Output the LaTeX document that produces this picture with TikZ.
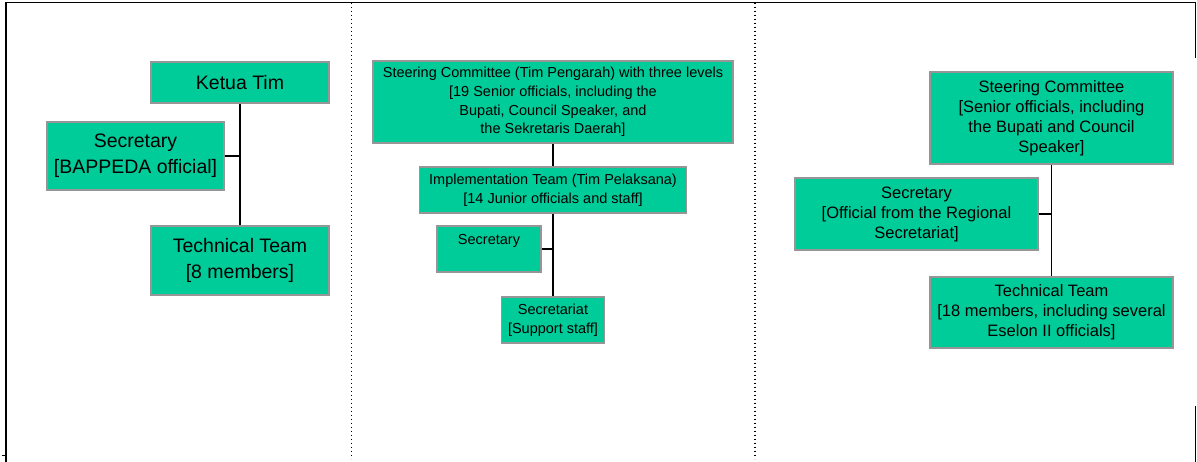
\documentclass[tikz,border=0pt]{standalone}
\usepackage{fontspec}
\setmainfont{Liberation Sans}
\definecolor{boxgreen}{RGB}{0,204,153}
\definecolor{boxedge}{RGB}{150,150,150}
\tikzset{
	orgbox/.style={draw=boxedge, fill=boxgreen, line width=1.3pt, align=center, inner sep=0pt},
	txtA/.style={font=\fontsize{19.5}{26}\selectfont},
	txtB/.style={font=\fontsize{14.5}{18.8}\selectfont},
	txtC/.style={font=\fontsize{16.5}{20}\selectfont},
	link/.style={line width=1.3pt}
}

\begin{document}
\begin{tikzpicture}[x=1pt, y=-1pt]
	\useasboundingbox (0,0) rectangle (1197,462);
	% frame
	\draw[line width=1.3pt] (5,2.5) -- (1196,2.5);
	\draw[line width=2pt] (6,2.5) -- (6,462);
	\draw[line width=1.3pt] (2,455.5) -- (6,455.5);
	\draw[line width=1.5pt] (1195.7,1.8) -- (1195.7,58);
	\draw[line width=1.5pt] (1195.7,406) -- (1195.7,462);
	% panels
	\draw[line width=1.2pt, dash pattern=on 1.3pt off 2.7pt] (351.5,3) -- (351.5,459);
	\draw[line width=1.2pt, dash pattern=on 1.3pt off 2.7pt] (755,3) -- (755,459);

	% first team
	\node[orgbox, txtA, minimum width=178pt, minimum height=41pt] (kt) at (240,82.5) {Ketua Tim};
	\node[orgbox, txtA, minimum width=177pt, minimum height=68pt] (secA) at (135.5,156) {Secretary\\{}[BAPPEDA official]};
	\node[orgbox, txtA, minimum width=178pt, minimum height=69pt] (techA) at (240,260.5) {Technical Team\\{}[8 members]};
	\draw[link] (kt.south) -- (techA.north);
	\draw[link] (secA.east) -- (secA.east -| kt.south);

	% second team
	\node[orgbox, txtB, minimum width=360pt, minimum height=82pt] (sc) at (553,102) {Steering Committee (Tim Pengarah) with three levels\\{}[19 Senior officials, including the\\Bupati, Council Speaker, and\\the Sekretaris Daerah]};
	\node[orgbox, txtB, minimum width=267pt, minimum height=46pt] (impl) at (553,190) {Implementation Team (Tim Pelaksana)\\{}[14 Junior officials and staff]};
	\node[orgbox, txtB, minimum width=104pt, minimum height=46pt] (secB) at (489,249) {Secretary\\\mbox{}};
	\node[orgbox, txtB, minimum width=103pt, minimum height=46pt] (sect) at (553,320) {Secretariat\\{}[Support staff]};
	\draw[link] (sc.south) -- (impl.north);
	\draw[link] (impl.south) -- (sect.north);
	\draw[link] (secB.east) -- (secB.east -| impl.south);

	% third team
	\node[orgbox, txtC, minimum width=243pt, minimum height=92pt] (scC) at (1051.5,118) {Steering Committee\\{}[Senior officials, including\\the Bupati and Council\\Speaker]};
	\node[orgbox, txtC, minimum width=243pt, minimum height=72pt] (secC) at (916.5,214) {Secretary\\{}[Official from the Regional\\Secretariat]};
	\node[orgbox, txtC, minimum width=243pt, minimum height=71pt] (techC) at (1051.5,312.5) {Technical Team\\{}[18 members, including several\\Eselon II officials]};
	\draw[link] (scC.south) -- (techC.north);
	\draw[link] (secC.east) -- (secC.east -| scC.south);
\end{tikzpicture}
\end{document}
